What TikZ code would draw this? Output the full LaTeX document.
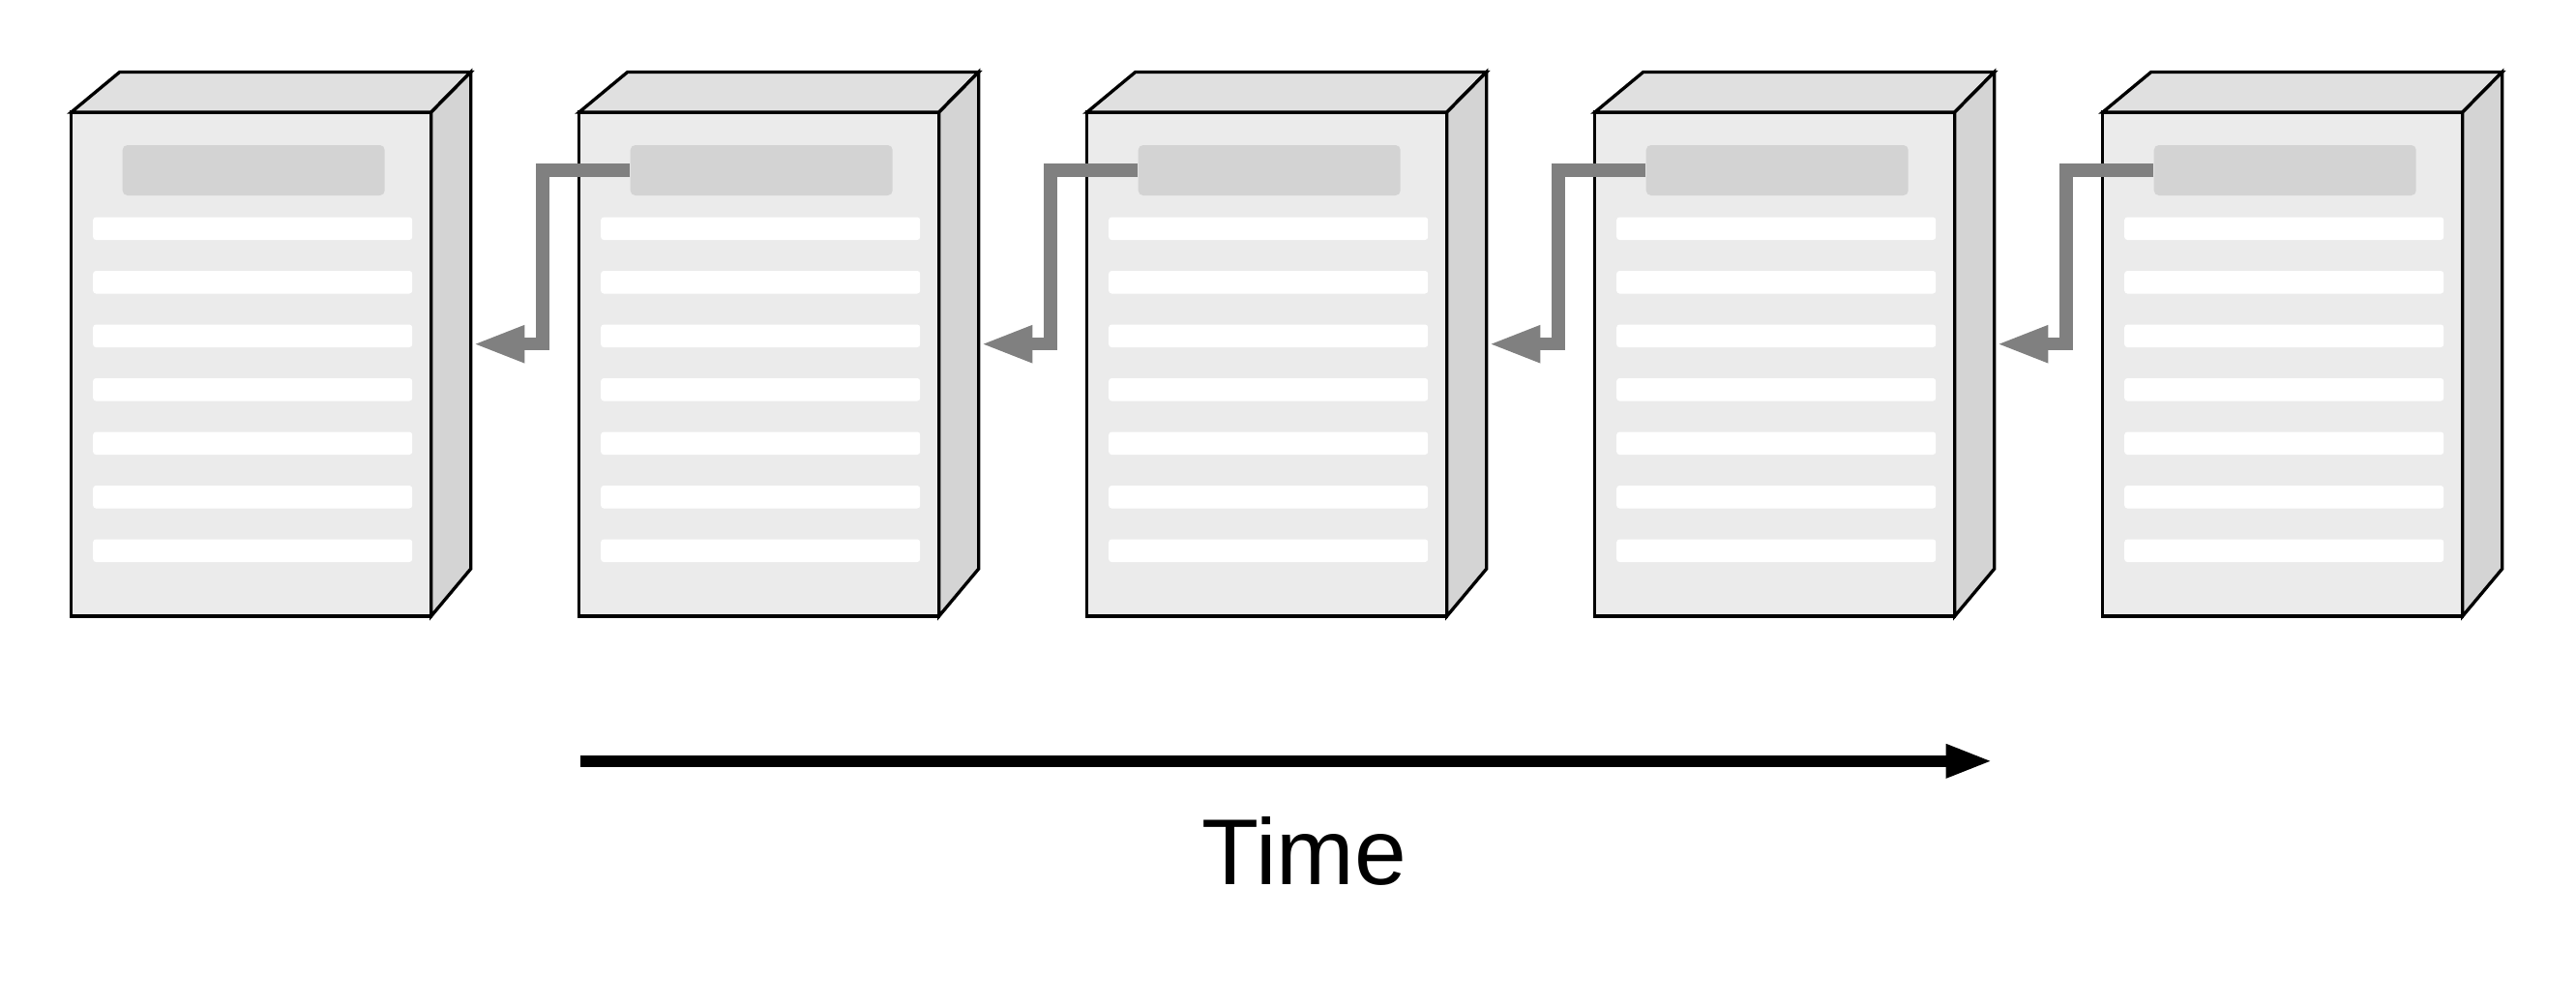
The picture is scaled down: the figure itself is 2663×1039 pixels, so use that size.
\documentclass[tikz,border=0pt]{standalone}
\usepackage{fontspec}
\setmainfont{Liberation Sans}
\usetikzlibrary{arrows.meta}
\definecolor{pagefront}{HTML}{EBEBEB}
\definecolor{pagetop}{HTML}{E0E0E0}
\definecolor{pageside}{HTML}{D4D4D4}
\definecolor{pagehead}{HTML}{D3D3D3}
\definecolor{linkgray}{HTML}{808080}

\begin{document}
\begin{tikzpicture}[x=0.3pt,y=-0.3pt,line join=miter,
  face/.style={draw=black,line width=1pt},
  header/.style={rectangle,fill=pagehead,draw=none,rounded corners=1.5pt,inner sep=0pt,minimum width=81.3pt,minimum height=15.6pt},
  stripe/.style={fill=white,rounded corners=0.9pt},
  link/.style={draw=linkgray,line width=4pt,-{Triangle[length=16.2pt,width=10.5pt]}},
  timearrow/.style={draw=black,line width=3.5pt,-{Triangle[length=14.5pt,width=9.6pt]}}]
  \useasboundingbox (0,0) rectangle (2663,1039);

  \foreach \i in {1,...,5} {
    \begin{scope}[shift={({(\i-1)*525+73.7},0)}]
      \draw[face,fill=pagefront] (0,116) rectangle (372,637);
      \draw[face,fill=pagetop] (0,116) -- (50,74.5) -- (413,74.5) -- (372,116) -- cycle;
      \draw[face,fill=pageside] (372,116) -- (413,74.5) -- (413,588) -- (372,637) -- cycle;
      \node[header] (hdr\i) at (188.5,176) {};
      \foreach \k in {0,...,6}
        \fill[stripe] (22.5,{224.5+55.5*\k}) rectangle (352.5,{248+55.5*\k});
      \coordinate (tip\i) at (414.6,355.7);
    \end{scope}
  }

  \draw[link] (hdr2.west) -- ++(-90,0) |- (tip1);
  \draw[link] (hdr3.west) -- ++(-90,0) |- (tip2);
  \draw[link] (hdr4.west) -- ++(-90,0) |- (tip3);
  \draw[link] (hdr5.west) -- ++(-90,0) |- (tip4);

  \coordinate (tstart) at (599.7,786.8);
  \coordinate (tend) at (2060,786.8);
  \draw[timearrow] (tstart) -- (tend);
  \node[anchor=base,inner sep=0pt,font=\fontsize{29}{35}\selectfont] (time) at (1348.5,914) {Time};

\end{tikzpicture}
\end{document}
